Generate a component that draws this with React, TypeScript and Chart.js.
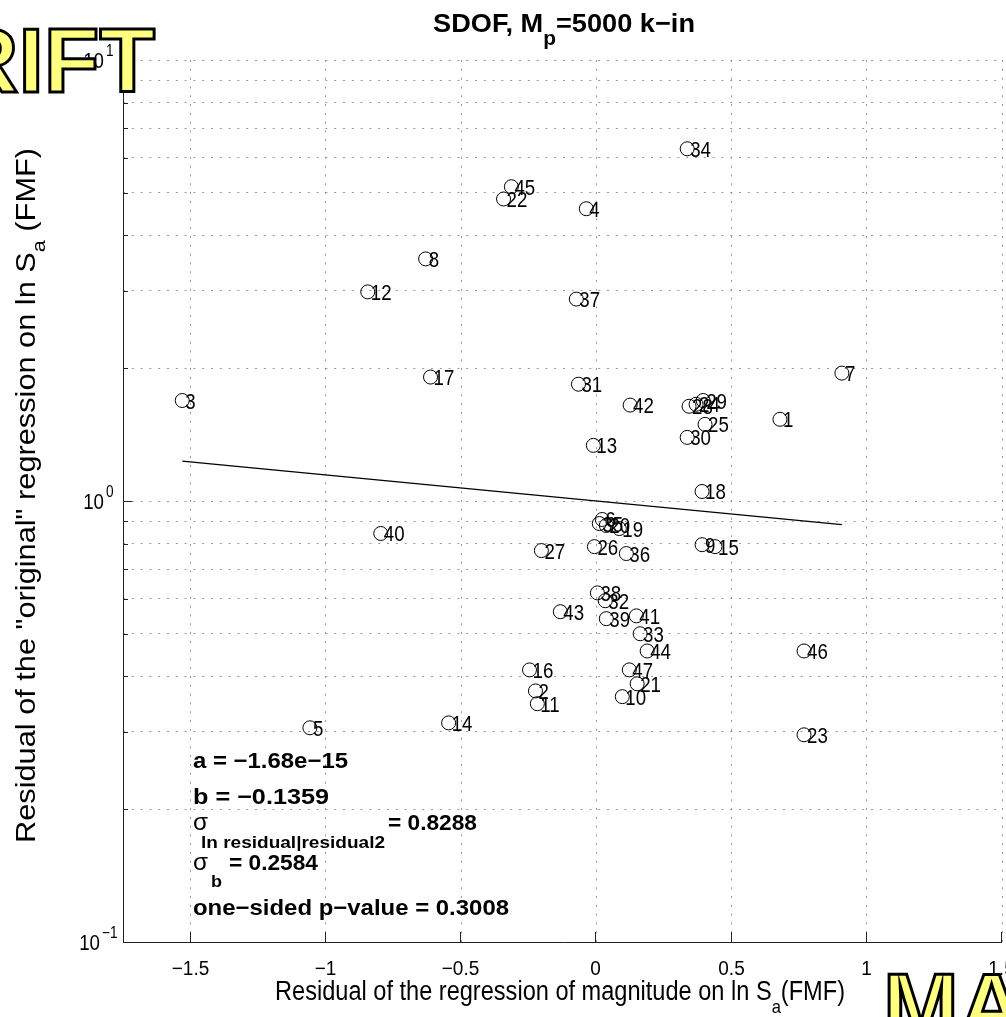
import React, { useEffect, useRef } from "react";
import { Chart, registerables } from "chart.js";
Chart.register(...registerables);

const pointIds = Array.from({ length: 47 }, (_, i) => String(i + 1));
const pointX = [0.679, -0.225, -1.531, -0.037, -1.059, 0.022, 0.908, -0.631, 0.391, 0.096, -0.218, -0.845, -0.011, -0.546, 0.439, -0.247, -0.613, 0.391, 0.085, 0.037, 0.151, -0.343, 0.768, 0.369, 0.402, -0.007, -0.203, 0.343, 0.395, 0.336, -0.066, 0.033, 0.162, 0.336, 0.011, 0.111, -0.074, 0.004, 0.037, -0.797, 0.148, 0.125, -0.133, 0.188, -0.314, 0.768, 0.122];
const pointY = [1.532, 0.371, 1.69, 4.6, 0.306, 0.908, 1.95, 3.54, 0.796, 0.36, 0.347, 2.98, 1.337, 0.314, 0.788, 0.414, 1.91, 1.051, 0.866, 0.88, 0.385, 4.84, 0.295, 1.657, 1.492, 0.788, 0.772, 1.64, 1.69, 1.394, 1.84, 0.594, 0.5, 6.29, 0.889, 0.76, 2.87, 0.619, 0.541, 0.844, 0.549, 1.65, 0.561, 0.457, 5.16, 0.457, 0.414];
const lineX = [-1.531, 0.908];
const lineY = [1.231, 0.884];
const xTicks = [-1.5, -1, -0.5, 0, 0.5, 1, 1.5];
const xTickLabels = ["\u22121.5", "\u22121", "\u22120.5", "0", "0.5", "1", "1.5"];
const yGrid = [0.1, 0.2, 0.3, 0.4, 0.5, 0.6, 0.7, 0.8, 0.9, 1, 2, 3, 4, 5, 6, 7, 8, 9, 10];
const yMajor = [0.1, 1, 10];
const yMajorExp = ["\u22121", "0", "1"];

const FONT = '"Liberation Sans", Arial, sans-serif';

type Seg = { t: string; size: number; bold?: boolean; dy?: number };

function rich(ctx: CanvasRenderingContext2D, segs: Seg[], x: number, y: number, target: number | null, sxIn = 1) {
  ctx.save();
  ctx.textAlign = "left";
  ctx.textBaseline = "alphabetic";
  const widths = segs.map((s) => {
    ctx.font = `${s.bold ? "bold " : ""}${s.size}px ${FONT}`;
    return ctx.measureText(s.t).width;
  });
  const total = widths.reduce((a, b) => a + b, 0);
  const sx = target ? target / total : sxIn;
  ctx.translate(x, y);
  ctx.scale(sx, 1);
  let cx = 0;
  segs.forEach((s, i) => {
    ctx.font = `${s.bold ? "bold " : ""}${s.size}px ${FONT}`;
    ctx.fillText(s.t, cx, s.dy || 0);
    cx += widths[i];
  });
  ctx.restore();
}

function txt(ctx: CanvasRenderingContext2D, s: string, x: number, y: number, font: string, sx: number, align: "left" | "right" | "center", baseline: CanvasTextBaseline = "alphabetic") {
  ctx.save();
  ctx.font = font;
  ctx.textBaseline = baseline;
  ctx.textAlign = "left";
  const w = ctx.measureText(s).width * sx;
  const x0 = align === "left" ? x : align === "right" ? x - w : x - w / 2;
  ctx.translate(x0, y);
  ctx.scale(sx, 1);
  ctx.fillText(s, 0, 0);
  ctx.restore();
  return w;
}

const decor = {
  id: "decor",
  afterDraw(chart: any) {
    const ctx: CanvasRenderingContext2D = chart.ctx;
    const xs = chart.scales.x;
    const ys = chart.scales.y;
    const a = chart.chartArea;
    ctx.save();
    ctx.fillStyle = "#000";
    ctx.strokeStyle = "#222";
    ctx.lineWidth = 1;
    // axes
    ctx.beginPath();
    ctx.moveTo(a.left + 0.5, a.top);
    ctx.lineTo(a.left + 0.5, a.bottom + 0.5);
    ctx.lineTo(a.right, a.bottom + 0.5);
    ctx.stroke();
    // x ticks
    xTicks.forEach((v, i) => {
      const px = Math.round(xs.getPixelForValue(v)) - 0.5;
      ctx.beginPath();
      ctx.moveTo(px, a.bottom);
      ctx.lineTo(px, a.bottom - 10);
      ctx.stroke();
      txt(ctx, xTickLabels[i], px, a.bottom + 33, `20px ${FONT}`, 0.95, "center");
    });
    // y ticks
    yGrid.forEach((v) => {
      const py = Math.round(ys.getPixelForValue(v)) + 0.5;
      const major = yMajor.includes(v);
      ctx.beginPath();
      ctx.moveTo(a.left, py);
      ctx.lineTo(a.left + (major ? 9 : 5), py);
      ctx.stroke();
    });
    yMajor.forEach((v, i) => {
      const py = ys.getPixelForValue(v);
      const baseRight = i === 0 ? 100 : 104;
      txt(ctx, "10", baseRight, py + 8, `22px ${FONT}`, 0.85, "right");
      txt(ctx, yMajorExp[i], baseRight + 2, py - 4, `16px ${FONT}`, 0.85, "left");
    });
    // point labels
    pointIds.forEach((id, i) => {
      const px = xs.getPixelForValue(pointX[i]);
      const py = ys.getPixelForValue(pointY[i]);
      txt(ctx, id, px + 3, py + 8, `22px ${FONT}`, 0.85, "left");
    });
    // title
    rich(ctx, [
      { t: "SDOF, M", size: 26, bold: true },
      { t: "p", size: 20, bold: true, dy: 13 },
      { t: "=5000 k\u2212in", size: 26, bold: true },
    ], 433, 32, 262);
    // x label
    rich(ctx, [
      { t: "Residual of the regression of magnitude on ln S", size: 27 },
      { t: "a", size: 19, dy: 13 },
      { t: "(FMF)", size: 27 },
    ], 275, 1000, 570);
    // y label
    ctx.save();
    ctx.translate(35, 843);
    ctx.rotate(-Math.PI / 2);
    rich(ctx, [
      { t: 'Residual of the "original" regression on ln S', size: 27 },
      { t: "a", size: 19, dy: 10 },
      { t: " (FMF)", size: 27 },
    ], 0, 0, 695);
    ctx.restore();
    // annotations
    rich(ctx, [{ t: "a = \u22121.68e\u221215", size: 22, bold: true }], 193, 768, 155);
    rich(ctx, [{ t: "b = \u22120.1359", size: 22, bold: true }], 193, 804, 136);
    rich(ctx, [{ t: "\u03c3", size: 23, bold: false }], 193, 830, 15);
    rich(ctx, [{ t: "ln residual|residual2", size: 16, bold: true }], 201, 848, 184);
    rich(ctx, [{ t: "= 0.8288", size: 22, bold: true }], 388, 830, 89);
    rich(ctx, [{ t: "\u03c3", size: 23, bold: false }], 193, 870, 15);
    rich(ctx, [{ t: "b", size: 17, bold: true }], 211, 887, 11);
    rich(ctx, [{ t: "= 0.2584", size: 22, bold: true }], 229, 870, 89);
    rich(ctx, [{ t: "one\u2212sided p\u2212value = 0.3008", size: 22, bold: true }], 193, 915, 316);
    // yellow words
    ctx.font = `bold 91px ${FONT}`;
    ctx.textBaseline = "alphabetic";
    ctx.lineJoin = "miter";
    ctx.fillStyle = "#ffff80";
    ctx.strokeStyle = "#000";
    ctx.lineWidth = 3;
    ctx.textAlign = "right";
    ctx.fillText("DRIFT", 155, 92);
    ctx.strokeText("DRIFT", 155, 92);
    ctx.textAlign = "left";
    ctx.fillText("MAGNITUDE", 883, 1037);
    ctx.strokeText("MAGNITUDE", 883, 1037);
    ctx.restore();
  },
};

export default function App() {
  const ref = useRef<HTMLCanvasElement>(null);
  useEffect(() => {
    if (!ref.current) return;
    const gridColor = "#9a9a9a";
    const chart = new Chart(ref.current, {
      type: "scatter",
      data: {
        datasets: [
          {
            data: pointX.map((x, i) => ({ x, y: pointY[i] })),
            pointStyle: "circle",
            pointRadius: 7,
            borderColor: "#000",
            borderWidth: 1,
            backgroundColor: "rgba(0,0,0,0)",
            showLine: false,
          } as any,
          {
            data: lineX.map((x, i) => ({ x, y: lineY[i] })),
            showLine: true,
            pointRadius: 0,
            borderColor: "#000",
            borderWidth: 1.2,
            fill: false,
          } as any,
        ],
      },
      options: {
        animation: false,
        responsive: false,
        devicePixelRatio: 1,
        layout: { autoPadding: false, padding: { top: 60, right: 4, left: 0, bottom: 0 } },
        plugins: { legend: { display: false }, tooltip: { enabled: false }, title: { display: false } },
        scales: {
          x: {
            type: "linear",
            min: -1.75,
            max: 1.5,
            afterBuildTicks: (s: any) => { s.ticks = xTicks.map((v) => ({ value: v })); },
            afterFit: (s: any) => { s.height = 75; },
            ticks: { display: false },
            grid: { color: gridColor, lineWidth: 1, drawTicks: false },
            border: { display: false, dash: [2, 6.8] },
          },
          y: {
            type: "logarithmic",
            min: 0.1,
            max: 10,
            afterBuildTicks: (s: any) => { s.ticks = yGrid.map((v) => ({ value: v })); },
            afterFit: (s: any) => { s.width = 123; },
            ticks: { display: false },
            grid: { color: gridColor, lineWidth: 1, drawTicks: false },
            border: { display: false, dash: [2, 6.8] },
          },
        },
      } as any,
      plugins: [decor],
    });
    return () => chart.destroy();
  }, []);
  return (
    <div style={{ position: "absolute", left: 0, top: 0, width: 1006, height: 1017, background: "#fff" }}>
      <canvas ref={ref} width={1006} height={1017} style={{ display: "block" }} />
    </div>
  );
}
